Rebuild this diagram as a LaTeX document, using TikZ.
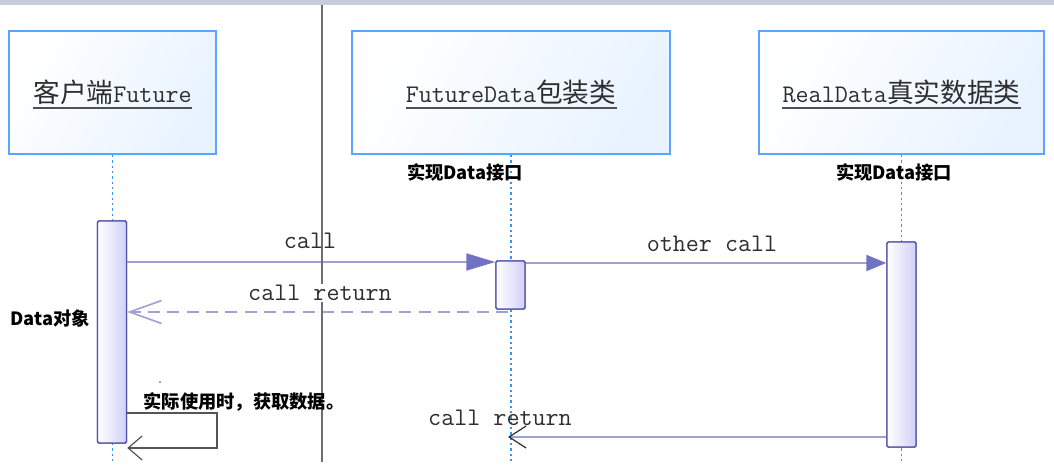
\documentclass[tikz,border=0pt]{standalone}
\usepackage{fontspec}
\usetikzlibrary{arrows.meta}
\newfontfamily\cjk{Noto Sans CJK SC}
\definecolor{boxblue}{HTML}{5AA5FF}
\definecolor{boxfill}{HTML}{E8F3FF}
\definecolor{life}{HTML}{3395F5}
\definecolor{actdraw}{HTML}{5252A8}
\definecolor{actfill}{HTML}{D0D0F8}
\definecolor{msg}{HTML}{A0A0D4}
\definecolor{head}{HTML}{7272C2}
\definecolor{sepc}{HTML}{6E6E6E}
\definecolor{topbar}{HTML}{C6CEDD}
\definecolor{txt}{HTML}{2E2E2E}
\definecolor{ulc}{HTML}{505050}
\definecolor{selfc}{HTML}{555555}
\begin{document}
\begin{tikzpicture}[x=0.75pt,y=-0.75pt,
  classbox/.style={draw=boxblue,line width=1.4pt,left color=white,right color=boxfill,shading angle=60,
    minimum height=123*0.75pt,inner sep=0pt},
  titletxt/.style={font=\fontsize{19}{22}\selectfont,text=txt,inner sep=0pt},
  titleline/.style={draw=ulc,line width=1.5pt},
  actbar/.style={draw=actdraw,line width=1.1pt,left color=white,right color=actfill,
    minimum width=29*0.75pt,inner sep=0pt,rounded corners=1pt},
  lifeline/.style={draw=life,line width=1.4pt,dash pattern=on 1.8pt off 2.2pt},
  msgline/.style={draw=msg,line width=1.5pt},
  selfline/.style={draw=selfc,line width=1.1pt},
  monolbl/.style={font=\fontsize{19}{22}\ttfamily,text=txt,inner sep=1pt},
  notelbl/.style={font=\fontsize{13.7}{15}\cjk\bfseries,text=black,inner sep=0pt}]
\useasboundingbox (0,0) rectangle (1054,466);
\fill[white] (0,0) rectangle (1054,466);
\fill[topbar] (0,0) rectangle (1054,5);

% class boxes
\node[classbox,minimum width=207*0.75pt] (client) at (112.5,92.5) {};
\node[classbox,minimum width=318*0.75pt] (future) at (511,92.5) {};
\node[classbox,minimum width=285*0.75pt] (real) at (901.5,92.5) {};
\node[titletxt] (t1) at (client.center) {{\fontsize{20}{22}\cjk 客户端}{\ttfamily Future}};
\node[titletxt] (t2) at (future.center) {{\ttfamily FutureData}{\fontsize{20}{22}\cjk 包装类}};
\node[titletxt] (t3) at (real.center) {{\ttfamily RealData}{\fontsize{20}{22}\cjk 真实数据类}};
\path (t1.south west) ++(0,3) coordinate (u1a) (t1.south east) ++(0,3) coordinate (u1b);
\path (t2.south west) ++(0,3) coordinate (u2a) (t2.south east) ++(0,3) coordinate (u2b);
\path (t3.south west) ++(0,3) coordinate (u3a) (t3.south east) ++(0,3) coordinate (u3b);
\draw[titleline] (u1a) -- (u1b);
\draw[titleline] (u2a) -- (u2b);
\draw[titleline] (u3a) -- (u3b);

% lifelines
\coordinate (e1) at (112.5,462);
\coordinate (e2) at (511,462);
\coordinate (e3) at (901.5,462);
\draw[lifeline] (client.south) -- (e1);
\draw[lifeline] (future.south) -- (e2);
\draw[lifeline] (real.south) -- (e3);

% message anchors
\coordinate (y1) at (0,262);
\coordinate (y2) at (0,263);
\coordinate (r1) at (508,312);
\coordinate (y4) at (0,437);
\coordinate (tip2) at (508,437);
\coordinate (s1) at (217,413);
\coordinate (s2) at (217,448);

% activation bars
\path (112,332) node[actbar,minimum height=222*0.75pt] (a1) {};
\path (510.5,285) node[actbar,minimum height=48*0.75pt] (a2) {};
\path (901.5,344.5) node[actbar,minimum height=205*0.75pt] (a3) {};

% messages
\draw[msgline,-{Triangle[length=29*0.75pt,width=17*0.75pt,color=head]}] (a1.east |- y1) -- (a2.west |- y1);
\draw[msgline,-{Triangle[length=20*0.75pt,width=16*0.75pt,color=head]}] (a2.east |- y2) -- (a3.west |- y2);
\draw[msgline,dash pattern=on 9pt off 5.5pt,-{Straight Barb[length=32*0.75pt,width=23*0.75pt,line width=1.2pt]}] (r1) -- (a1.east |- r1);
\draw[msgline,-{Straight Barb[length=17*0.75pt,width=22*0.75pt,color=txt,line width=0.9pt]}] (a3.west |- y4) -- (tip2);
\draw[selfline,-{Straight Barb[length=14*0.75pt,width=24*0.75pt,line width=0.9pt]}] (a1.east |- s1) -- (s1) -- (s2) -- (a1.east |- s2);

% redraw bars on top
\path (112,332) node[actbar,minimum height=222*0.75pt] {};
\path (510.5,285) node[actbar,minimum height=48*0.75pt] {};
\path (901.5,344.5) node[actbar,minimum height=205*0.75pt] {};

% separator
\coordinate (sepT) at (322,5);
\coordinate (sepB) at (322,462);
\draw[sepc,line width=1.5pt] (sepT) -- (sepB);

% labels
\node[monolbl] (lcall) at (310,241) {call};
\node[monolbl] (lother) at (712,244) {other call};
\node[monolbl,fill=white] (lret1) at (320,293) {call return};
\node[monolbl] (lret2) at (500,418) {call return};
\node[notelbl] (impl1) at (465,172) {实现Data接口};
\node[notelbl] (impl2) at (894,172) {实现Data接口};
\node[notelbl] (dobj) at (50,319) {Data对象};
\node[notelbl] (use) at (244,402) {实际使用时，获取数据。};
\fill[black!70] (160,382) circle (0.7pt);
\end{tikzpicture}
\end{document}
